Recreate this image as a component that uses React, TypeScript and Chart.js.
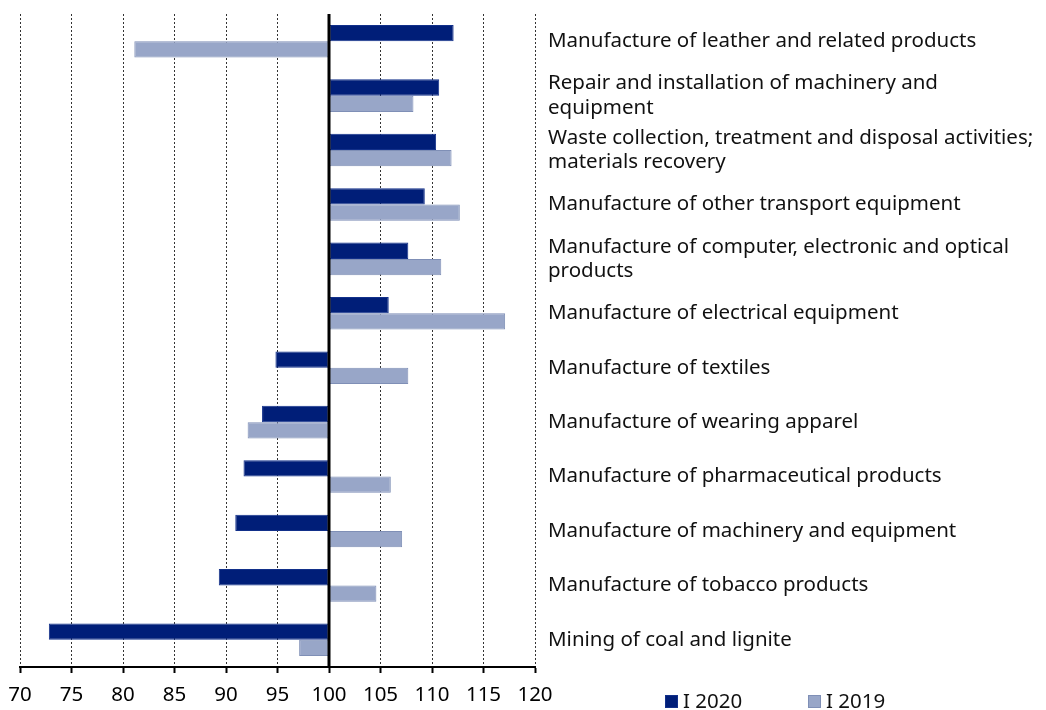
import React, { useEffect, useRef } from "react";
import { Chart, registerables } from "chart.js";

Chart.register(...registerables);

const categories: (string | string[])[] = [
  "Manufacture of leather and related products",
  ["Repair and installation of machinery and", "equipment"],
  ["Waste collection, treatment and disposal activities;", "materials recovery"],
  "Manufacture of other transport equipment",
  ["Manufacture of computer, electronic and optical", "products"],
  "Manufacture of electrical equipment",
  "Manufacture of textiles",
  "Manufacture of wearing apparel",
  "Manufacture of pharmaceutical products",
  "Manufacture of machinery and equipment",
  "Manufacture of tobacco products",
  "Mining of coal and lignite",
];

const series2020 = [112.1, 110.7, 110.4, 109.3, 107.7, 105.8, 94.8, 93.5, 91.7, 90.9, 89.3, 72.8];
const series2019 = [81.1, 108.2, 111.9, 112.7, 110.9, 117.1, 107.7, 92.1, 106.0, 107.1, 104.6, 97.1];

const seriesLabels = ["I 2020", "I 2019"];
const xMin = 70;
const xMax = 120;
const xStep = 5;
const baseValue = 100;

const FONT = "'Noto Sans', sans-serif";
const FONT_SIZE = 20.5;

const baseLinePlugin = {
  id: "baseLine",
  afterDatasetsDraw(chart: any) {
    const { ctx, chartArea, scales } = chart;
    const x = scales.x.getPixelForValue(baseValue);
    ctx.save();
    ctx.strokeStyle = "#000";
    ctx.lineWidth = 3;
    ctx.beginPath();
    ctx.moveTo(x, chartArea.top);
    ctx.lineTo(x, chartArea.bottom + 1);
    ctx.stroke();
    ctx.restore();
  },
};

const legendPlugin = {
  id: "customLegend",
  afterDraw(chart: any) {
    const { ctx } = chart;
    const positions = [665, 808];
    ctx.save();
    ctx.font = FONT_SIZE + "px " + FONT;
    ctx.textBaseline = "middle";
    ctx.textAlign = "left";
    chart.data.datasets.forEach((ds: any, i: number) => {
      const x = positions[i];
      const y = 695;
      ctx.fillStyle = ds.backgroundColor;
      ctx.fillRect(x, y, 13, 13);
      ctx.strokeStyle = ds.borderColor;
      ctx.lineWidth = 1;
      ctx.strokeRect(x + 0.5, y + 0.5, 12, 12);
      ctx.fillStyle = "#111";
      ctx.fillText(ds.label, x + 18, y + 7);
    });
    ctx.restore();
  },
};

export default function App() {
  const ref = useRef<HTMLCanvasElement | null>(null);

  useEffect(() => {
    if (!ref.current) return;
    const chart = new Chart(ref.current, {
      type: "bar",
      data: {
        labels: categories,
        datasets: [
          {
            label: seriesLabels[0],
            data: series2020,
            base: baseValue,
            backgroundColor: "#001E78",
            borderColor: "#12308A",
            borderWidth: 1,
            borderSkipped: false,
          },
          {
            label: seriesLabels[1],
            data: series2019,
            base: baseValue,
            backgroundColor: "#98A6C8",
            borderColor: "#7F8FB6",
            borderWidth: 1,
            borderSkipped: false,
          },
        ],
      } as any,
      options: {
        indexAxis: "y",
        animation: false,
        responsive: false,
        layout: { padding: { left: 20, top: 14, right: 0, bottom: 0 } },
        datasets: {
          bar: { categoryPercentage: 0.6, barPercentage: 1 },
        },
        plugins: {
          legend: { display: false },
          tooltip: { enabled: false },
        },
        scales: {
          x: {
            type: "linear",
            min: xMin,
            max: xMax,
            ticks: {
              stepSize: xStep,
              color: "#000",
              padding: 10,
              font: { family: FONT, size: FONT_SIZE },
            },
            grid: {
              color: (c: any) => (c.tick && c.tick.value === baseValue ? "rgba(0,0,0,0)" : "#333"),
              lineWidth: 1,
              tickLength: 6,
              tickColor: "#000",
              tickWidth: 2,
              tickBorderDash: [],
            },
            border: { display: true, color: "#000", width: 2, dash: [2, 2] },
            afterFit: (s: any) => {
              s.height = 43;
              s.paddingLeft = 0;
              s.paddingRight = 0;
            },
          },
          y: {
            type: "category",
            position: "right",
            grid: { display: false, drawTicks: false },
            border: { display: false },
            ticks: {
              color: "#111",
              padding: 13,
              crossAlign: "near",
              font: { family: FONT, size: FONT_SIZE, lineHeight: 1.18 },
            },
            afterFit: (s: any) => {
              s.width = 511;
              s.paddingTop = 0;
              s.paddingBottom = 0;
            },
          },
        },
      } as any,
      plugins: [baseLinePlugin, legendPlugin],
    });
    return () => chart.destroy();
  }, []);

  return (
    <div style={{ position: "absolute", left: 0, top: 0, width: 1046, height: 710, background: "#fff" }}>
      <canvas ref={ref} width={1046} height={710} style={{ display: "block" }} />
    </div>
  );
}
